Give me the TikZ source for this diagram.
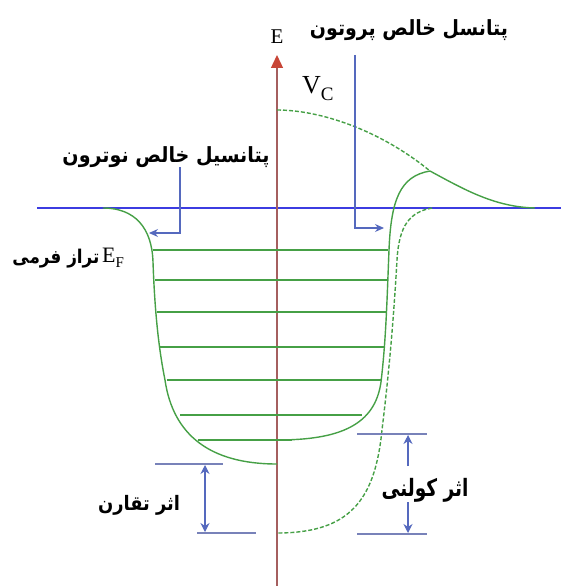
\documentclass[tikz,border=0pt]{standalone}
\usepackage{fontspec}
\usepackage{graphicx}
\setmainfont{Liberation Serif}
\newfontfamily\arabicfont[Script=Arabic]{DejaVu Sans}
\TeXXeTstate=1
\usetikzlibrary{arrows.meta}
\definecolor{axbrown}{RGB}{165,95,95}
\definecolor{axred}{RGB}{200,70,55}
\definecolor{mainblue}{RGB}{60,60,225}
\definecolor{annblue}{RGB}{85,105,190}
\definecolor{dimblue}{RGB}{120,130,185}
\definecolor{wellgreen}{RGB}{70,160,70}
\tikzset{
  wall/.style={draw=wellgreen,line width=1.4pt},
  dwall/.style={draw=wellgreen,line width=1.4pt,dash pattern=on 4pt off 2pt},
  level/.style={draw=wellgreen,line width=1.6pt},
  pointer/.style={draw=annblue,line width=1.1pt,-{Stealth[length=9pt,width=8pt]}},
  dimline/.style={draw=dimblue,line width=1.6pt},
  dimarrow/.style={draw=annblue,line width=1.1pt,{Stealth[length=9pt,width=9pt]}-{Stealth[length=9pt,width=9pt]}},
  dimhalf/.style={draw=annblue,line width=1.1pt,-{Stealth[length=9pt,width=9pt]}},
  fa/.style={inner sep=0pt,font=\arabicfont\bfseries},
  lat/.style={inner sep=0pt}
}
\begin{document}
\begin{tikzpicture}[x=1pt,y=-1pt]
\useasboundingbox (0,0) rectangle (561,586);
% main horizontal line
\coordinate (hl) at (37,208);
\coordinate (hr) at (561,208);
\draw[mainblue,line width=1.8pt] (hl) -- (hr);
% energy axis
\coordinate (axbot) at (277,586);
\coordinate (axtop) at (277,55);
\draw[axbrown,line width=1.3pt,-{Triangle[length=13pt,width=12pt,fill=axred,color=axred]}] (axbot) -- (axtop);
\node[lat,font=\fontsize{21}{21}\selectfont] (lblE) at (277,37) {E};
% Coulomb barrier curve
\coordinate (vc0) at (277,110);
\coordinate (junc) at (430,171);
\coordinate (tailend) at (535,208);
\draw[dwall] (vc0) .. controls (320,110) and (380,130) .. (junc);
\draw[wall] (junc) .. controls (465,190) and (495,207) .. (tailend);
\node[lat,anchor=south west,font=\fontsize{26}{26}\selectfont] (lblV) at (302,101) {V\raisebox{-0.28em}{\fontsize{19}{19}\selectfont C}};
% neutron well (left half, solid)
\coordinate (nl0) at (103,208);
\coordinate (nl1) at (153,262);
\coordinate (nl2) at (165,380);
\coordinate (nbot) at (277,464);
\draw[wall] (nl0) .. controls (135,208) and (152,228) .. (nl1)
  .. controls (155,320) and (160,355) .. (nl2)
  .. controls (173,435) and (210,464) .. (nbot);
% proton well (right half, solid)
\coordinate (pr1) at (389,250);
\coordinate (pr2) at (381,382);
\coordinate (pbot) at (277,440);
\draw[wall] (junc) .. controls (400,176) and (391,200) .. (pr1)
  .. controls (387,300) and (386,340) .. (pr2)
  .. controls (375,425) and (340,440) .. (pbot);
% dashed right wall
\coordinate (dr0) at (432,208);
\coordinate (dr1) at (397,260);
\coordinate (dr2) at (382,430);
\coordinate (dbot) at (277,533);
\draw[dwall] (dr0) .. controls (410,212) and (399,225) .. (dr1)
  .. controls (393,330) and (388,380) .. (dr2)
  .. controls (375,500) and (350,533) .. (dbot);
% energy levels
\foreach \y/\a/\b in {250/153/388, 280/155/387, 312/157/386, 347/160/385, 380/167/382, 415/180/362, 440/198/292}{
  \draw[level] (\a,\y) -- (\b,\y);
}
% labels with pointers
\node[fa] (lblN) at (166,157) {\resizebox*{207pt}{21pt}{\beginR پتانسیل خالص نوترون\endR}};
\coordinate (nptop) at (180,167);
\coordinate (npcorner) at (180,233);
\coordinate (nptip) at (149,233);
\draw[pointer] (nptop) -- (npcorner) -- (nptip);
\node[fa] (lblP) at (409,30) {\resizebox*{198pt}{21pt}{\beginR پتانسل خالص پروتون\endR}};
\coordinate (pptop) at (355,55);
\coordinate (ppcorner) at (355,228);
\coordinate (pptip) at (384,228);
\draw[pointer] (pptop) -- (ppcorner) -- (pptip);
% Fermi level label
\node[fa] (lblF) at (56,259) {\resizebox*{87pt}{19pt}{\beginR تراز فرمی\endR}};
\node[lat,anchor=west,font=\fontsize{22}{22}\selectfont] (lblEF) at (102,258) {E\raisebox{-0.25em}{\fontsize{15}{15}\selectfont F}};
% symmetry effect
\coordinate (s1a) at (155,464); \coordinate (s1b) at (223,464);
\coordinate (s2a) at (197,533); \coordinate (s2b) at (256,533);
\draw[dimline] (s1a) -- (s1b);
\draw[dimline] (s2a) -- (s2b);
\coordinate (sa) at (205,465); \coordinate (sb) at (205,532);
\draw[dimarrow] (sa) -- (sb);
\node[fa] (lblS) at (139,505) {\resizebox*{82pt}{20pt}{\beginR اثر تقارن\endR}};
% Coulomb effect
\coordinate (c1a) at (357,434); \coordinate (c1b) at (427,434);
\coordinate (c2a) at (357,534); \coordinate (c2b) at (427,534);
\draw[dimline] (c1a) -- (c1b);
\draw[dimline] (c2a) -- (c2b);
\coordinate (ca0) at (408,466); \coordinate (ca1) at (408,435);
\coordinate (cb0) at (408,502); \coordinate (cb1) at (408,533);
\draw[dimhalf] (ca0) -- (ca1);
\draw[dimhalf] (cb0) -- (cb1);
\node[fa] (lblC) at (425,490) {\resizebox*{87pt}{24pt}{\beginR اثر کولنی\endR}};
\end{tikzpicture}
\end{document}
